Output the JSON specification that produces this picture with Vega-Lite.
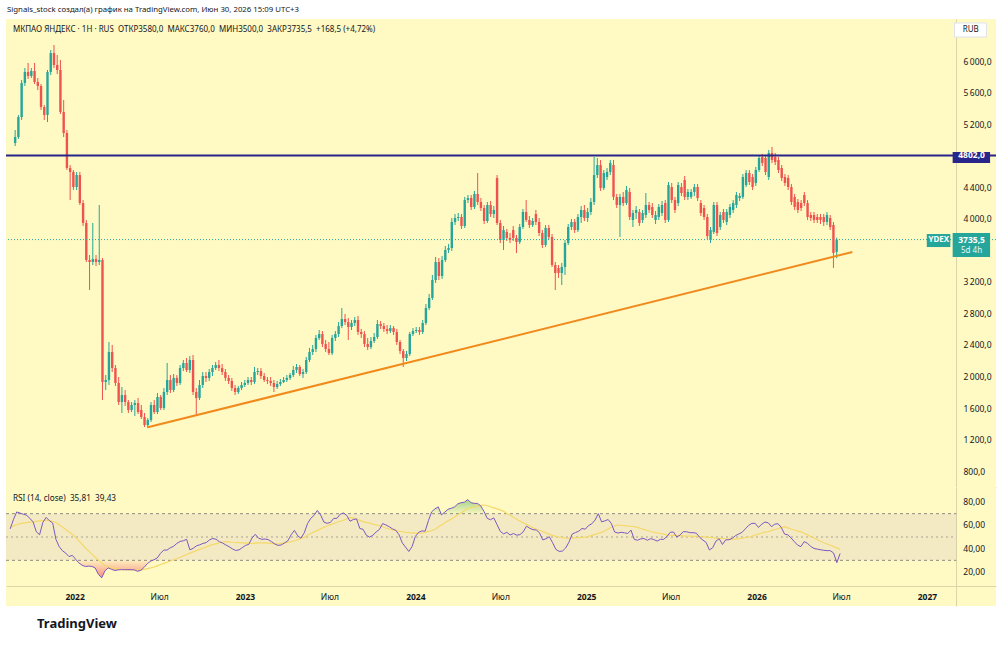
{
  "$schema": "https://vega.github.io/schema/vega-lite/v6.json",
  "background": "#ffffff",
  "padding": {"left": 5, "right": 5, "top": 6, "bottom": 0},
  "spacing": 0,
  "title": {"text": "TradingView", "orient": "bottom", "anchor": "start", "frame": "group", "offset": 12, "dx": 31, "fontSize": 13, "fontWeight": "bold", "color": "#131722"},
  "datasets": {
    "w": [
      {"d":"2021-08-16","o":4960,"h":5125,"l":4922,"c":5036,"r":57,"m":58},
      {"d":"2021-08-23","o":5036,"h":5315,"l":5011,"c":5290,"r":65,"m":59.5},
      {"d":"2021-08-30","o":5290,"h":5759,"l":5252,"c":5721,"r":71.5,"m":60.5},
      {"d":"2021-09-06","o":5721,"h":5911,"l":5683,"c":5861,"r":70.5,"m":61.4},
      {"d":"2021-09-13","o":5861,"h":5975,"l":5772,"c":5810,"r":69.5,"m":61.9},
      {"d":"2021-09-20","o":5810,"h":5911,"l":5784,"c":5873,"r":68.8,"m":62.3},
      {"d":"2021-09-27","o":5873,"h":5975,"l":5708,"c":5734,"r":66,"m":62.7},
      {"d":"2021-10-04","o":5734,"h":5784,"l":5632,"c":5683,"r":63,"m":63},
      {"d":"2021-10-11","o":5683,"h":5708,"l":5379,"c":5417,"r":54.4,"m":63.4},
      {"d":"2021-10-18","o":5417,"h":5442,"l":5252,"c":5315,"r":52,"m":63.8},
      {"d":"2021-10-25","o":5315,"h":5886,"l":5226,"c":5861,"r":62.5,"m":64.1},
      {"d":"2021-11-01","o":5861,"h":6139,"l":5822,"c":6101,"r":66.8,"m":64.4},
      {"d":"2021-11-08","o":6101,"h":6203,"l":5911,"c":5949,"r":64,"m":64.3},
      {"d":"2021-11-15","o":5949,"h":6076,"l":5835,"c":5886,"r":62,"m":63.3},
      {"d":"2021-11-22","o":5886,"h":6013,"l":5328,"c":5353,"r":48,"m":62.4},
      {"d":"2021-11-29","o":5353,"h":5505,"l":5036,"c":5087,"r":41.7,"m":60.5},
      {"d":"2021-12-06","o":5087,"h":5125,"l":4618,"c":4643,"r":38.2,"m":58.6},
      {"d":"2021-12-13","o":4643,"h":4681,"l":4237,"c":4593,"r":36.2,"m":56.5},
      {"d":"2021-12-20","o":4593,"h":4618,"l":4364,"c":4402,"r":33.2,"m":54.3},
      {"d":"2021-12-27","o":4402,"h":4593,"l":4364,"c":4554,"r":34.3,"m":52.3},
      {"d":"2022-01-03","o":4554,"h":4593,"l":4174,"c":4199,"r":31,"m":49.7},
      {"d":"2022-01-10","o":4199,"h":4237,"l":3908,"c":3946,"r":27.8,"m":46.7},
      {"d":"2022-01-17","o":3946,"h":3984,"l":3451,"c":3477,"r":25.8,"m":43.8},
      {"d":"2022-01-24","o":3477,"h":3540,"l":3096,"c":3451,"r":24.7,"m":40.8},
      {"d":"2022-01-31","o":3451,"h":3946,"l":3413,"c":3489,"r":25,"m":37.9},
      {"d":"2022-02-07","o":3489,"h":3540,"l":3400,"c":3451,"r":24.8,"m":35.3},
      {"d":"2022-02-14","o":3451,"h":4174,"l":3413,"c":3477,"r":23.5,"m":32.7},
      {"d":"2022-02-21","o":3477,"h":3502,"l":1701,"c":1930,"r":18,"m":30.1},
      {"d":"2022-02-28","o":1930,"h":2018,"l":1828,"c":1955,"r":15,"m":27.8},
      {"d":"2022-03-07","o":1955,"h":2437,"l":1892,"c":2310,"r":21,"m":25.6},
      {"d":"2022-03-14","o":2310,"h":2399,"l":2056,"c":2107,"r":23.5,"m":24.6},
      {"d":"2022-03-21","o":2107,"h":2145,"l":1879,"c":1917,"r":22.3,"m":23.8},
      {"d":"2022-03-28","o":1917,"h":1993,"l":1638,"c":1676,"r":21.3,"m":23.1},
      {"d":"2022-04-04","o":1676,"h":1866,"l":1537,"c":1765,"r":21.8,"m":22.7},
      {"d":"2022-04-11","o":1765,"h":1828,"l":1625,"c":1676,"r":22,"m":22.3},
      {"d":"2022-04-18","o":1676,"h":1701,"l":1537,"c":1575,"r":22,"m":22},
      {"d":"2022-04-25","o":1575,"h":1676,"l":1549,"c":1638,"r":22,"m":21.8},
      {"d":"2022-05-02","o":1638,"h":1701,"l":1498,"c":1663,"r":22,"m":21.7},
      {"d":"2022-05-09","o":1663,"h":1727,"l":1524,"c":1549,"r":21.8,"m":21.7},
      {"d":"2022-05-16","o":1575,"h":1638,"l":1460,"c":1486,"r":20.6,"m":21.7},
      {"d":"2022-05-23","o":1486,"h":1537,"l":1359,"c":1384,"r":21.5,"m":21.7},
      {"d":"2022-05-30","o":1384,"h":1473,"l":1346,"c":1448,"r":24,"m":22.2},
      {"d":"2022-06-06","o":1448,"h":1676,"l":1422,"c":1638,"r":27.2,"m":22.9},
      {"d":"2022-06-13","o":1638,"h":1701,"l":1524,"c":1549,"r":29.3,"m":23.5},
      {"d":"2022-06-20","o":1549,"h":1790,"l":1524,"c":1740,"r":30.5,"m":24.3},
      {"d":"2022-06-27","o":1740,"h":1765,"l":1575,"c":1600,"r":32,"m":25.3},
      {"d":"2022-07-04","o":1600,"h":1853,"l":1575,"c":1803,"r":36,"m":26.4},
      {"d":"2022-07-11","o":1803,"h":2171,"l":1765,"c":1955,"r":38.8,"m":27.4},
      {"d":"2022-07-18","o":1955,"h":2018,"l":1790,"c":1828,"r":38.8,"m":28.4},
      {"d":"2022-07-25","o":1828,"h":2031,"l":1803,"c":1981,"r":40.8,"m":29.4},
      {"d":"2022-08-01","o":1981,"h":2018,"l":1879,"c":1917,"r":42,"m":30.5},
      {"d":"2022-08-08","o":1917,"h":2145,"l":1892,"c":2107,"r":44.5,"m":31.6},
      {"d":"2022-08-15","o":2107,"h":2209,"l":2069,"c":2171,"r":46.2,"m":32.6},
      {"d":"2022-08-22","o":2171,"h":2234,"l":2056,"c":2082,"r":46.8,"m":33.8},
      {"d":"2022-08-29","o":2082,"h":2259,"l":2044,"c":2209,"r":48,"m":35},
      {"d":"2022-09-05","o":2209,"h":2272,"l":1765,"c":1803,"r":39,"m":36.2},
      {"d":"2022-09-12","o":1803,"h":1853,"l":1511,"c":1727,"r":40.3,"m":37.2},
      {"d":"2022-09-19","o":1727,"h":1955,"l":1701,"c":1892,"r":42.4,"m":38.3},
      {"d":"2022-09-26","o":1892,"h":2056,"l":1854,"c":2006,"r":43.3,"m":39.4},
      {"d":"2022-10-03","o":2006,"h":2056,"l":1930,"c":1981,"r":44.5,"m":40.5},
      {"d":"2022-10-10","o":1981,"h":2094,"l":1943,"c":2056,"r":45.2,"m":41.5},
      {"d":"2022-10-17","o":2056,"h":2145,"l":2006,"c":2107,"r":47.5,"m":42.6},
      {"d":"2022-10-24","o":2107,"h":2183,"l":2082,"c":2145,"r":48.7,"m":43.5},
      {"d":"2022-10-31","o":2145,"h":2209,"l":2069,"c":2107,"r":48.1,"m":44.3},
      {"d":"2022-11-07","o":2107,"h":2158,"l":2018,"c":2056,"r":46,"m":45.1},
      {"d":"2022-11-14","o":2056,"h":2094,"l":1943,"c":1981,"r":44.8,"m":45.7},
      {"d":"2022-11-21","o":1981,"h":2018,"l":1904,"c":1943,"r":43.2,"m":46},
      {"d":"2022-11-28","o":1943,"h":1981,"l":1816,"c":1854,"r":41.7,"m":45.8},
      {"d":"2022-12-05","o":1854,"h":1892,"l":1765,"c":1803,"r":39.8,"m":45.5},
      {"d":"2022-12-12","o":1803,"h":1879,"l":1778,"c":1854,"r":38.5,"m":45.3},
      {"d":"2022-12-19","o":1854,"h":1930,"l":1828,"c":1892,"r":38.9,"m":45.1},
      {"d":"2022-12-26","o":1892,"h":1955,"l":1866,"c":1917,"r":40.8,"m":45},
      {"d":"2023-01-02","o":1917,"h":1993,"l":1892,"c":1955,"r":42.8,"m":44.8},
      {"d":"2023-01-09","o":1955,"h":1993,"l":1892,"c":1930,"r":43.6,"m":44.7},
      {"d":"2023-01-16","o":1930,"h":2120,"l":1904,"c":2056,"r":49,"m":44.6},
      {"d":"2023-01-23","o":2056,"h":2107,"l":2018,"c":2069,"r":52.3,"m":44.8},
      {"d":"2023-01-30","o":2069,"h":2107,"l":1968,"c":2006,"r":49,"m":44.9},
      {"d":"2023-02-06","o":2006,"h":2044,"l":1930,"c":1955,"r":48,"m":45},
      {"d":"2023-02-13","o":1955,"h":1993,"l":1904,"c":1943,"r":48.3,"m":45},
      {"d":"2023-02-20","o":1943,"h":1993,"l":1879,"c":1917,"r":47.7,"m":44.8},
      {"d":"2023-02-27","o":1917,"h":1955,"l":1803,"c":1866,"r":46,"m":44.6},
      {"d":"2023-03-06","o":1866,"h":1943,"l":1841,"c":1904,"r":44,"m":44.3},
      {"d":"2023-03-13","o":1904,"h":1968,"l":1879,"c":1930,"r":42.8,"m":44},
      {"d":"2023-03-20","o":1930,"h":1993,"l":1917,"c":1955,"r":43.2,"m":44.5},
      {"d":"2023-03-27","o":1955,"h":2018,"l":1930,"c":1981,"r":45,"m":45},
      {"d":"2023-04-03","o":1981,"h":2044,"l":1955,"c":2018,"r":46.8,"m":45.5},
      {"d":"2023-04-10","o":2018,"h":2133,"l":1993,"c":2082,"r":52,"m":46},
      {"d":"2023-04-17","o":2082,"h":2158,"l":2044,"c":2120,"r":55.7,"m":46.8},
      {"d":"2023-04-24","o":2120,"h":2145,"l":2006,"c":2031,"r":51,"m":47.8},
      {"d":"2023-05-01","o":2031,"h":2094,"l":1981,"c":2056,"r":49,"m":48.8},
      {"d":"2023-05-08","o":2056,"h":2247,"l":2031,"c":2209,"r":53.6,"m":49.7},
      {"d":"2023-05-15","o":2209,"h":2361,"l":2183,"c":2310,"r":61.5,"m":51.5},
      {"d":"2023-05-22","o":2310,"h":2399,"l":2272,"c":2348,"r":66,"m":53},
      {"d":"2023-05-29","o":2348,"h":2526,"l":2310,"c":2488,"r":68.5,"m":54.4},
      {"d":"2023-06-05","o":2488,"h":2589,"l":2462,"c":2538,"r":72.8,"m":55.7},
      {"d":"2023-06-12","o":2538,"h":2576,"l":2373,"c":2411,"r":69,"m":57},
      {"d":"2023-06-19","o":2411,"h":2462,"l":2310,"c":2348,"r":62.8,"m":58.3},
      {"d":"2023-06-26","o":2348,"h":2437,"l":2272,"c":2297,"r":61.7,"m":59.4},
      {"d":"2023-07-03","o":2297,"h":2526,"l":2272,"c":2488,"r":62.5,"m":60.6},
      {"d":"2023-07-10","o":2488,"h":2576,"l":2450,"c":2538,"r":65.9,"m":61.6},
      {"d":"2023-07-17","o":2538,"h":2691,"l":2500,"c":2640,"r":66,"m":62.6},
      {"d":"2023-07-24","o":2640,"h":2868,"l":2614,"c":2728,"r":69.5,"m":63.5},
      {"d":"2023-07-31","o":2728,"h":2792,"l":2652,"c":2690,"r":70.6,"m":64.4},
      {"d":"2023-08-07","o":2690,"h":2741,"l":2462,"c":2627,"r":68.5,"m":65.5},
      {"d":"2023-08-14","o":2627,"h":2716,"l":2589,"c":2678,"r":63.5,"m":66.6},
      {"d":"2023-08-21","o":2678,"h":2754,"l":2640,"c":2716,"r":65,"m":66.4},
      {"d":"2023-08-28","o":2716,"h":2767,"l":2526,"c":2564,"r":65.5,"m":65.4},
      {"d":"2023-09-04","o":2564,"h":2602,"l":2488,"c":2538,"r":57.3,"m":64.3},
      {"d":"2023-09-11","o":2538,"h":2576,"l":2373,"c":2411,"r":56.6,"m":63.2},
      {"d":"2023-09-18","o":2411,"h":2488,"l":2335,"c":2373,"r":51.5,"m":62.6},
      {"d":"2023-09-25","o":2373,"h":2500,"l":2348,"c":2450,"r":49.9,"m":61.9},
      {"d":"2023-10-02","o":2450,"h":2551,"l":2424,"c":2500,"r":51.5,"m":61},
      {"d":"2023-10-09","o":2500,"h":2716,"l":2475,"c":2665,"r":54.3,"m":60.3},
      {"d":"2023-10-16","o":2665,"h":2703,"l":2602,"c":2640,"r":56.5,"m":59.5},
      {"d":"2023-10-23","o":2640,"h":2678,"l":2564,"c":2602,"r":61.5,"m":58.6},
      {"d":"2023-10-30","o":2602,"h":2652,"l":2538,"c":2576,"r":60.3,"m":57.7},
      {"d":"2023-11-06","o":2576,"h":2652,"l":2551,"c":2614,"r":58.8,"m":56.9},
      {"d":"2023-11-13","o":2614,"h":2640,"l":2526,"c":2564,"r":57,"m":56.1},
      {"d":"2023-11-20","o":2564,"h":2602,"l":2399,"c":2437,"r":55.8,"m":55.6},
      {"d":"2023-11-27","o":2437,"h":2462,"l":2285,"c":2323,"r":52,"m":55},
      {"d":"2023-12-04","o":2323,"h":2348,"l":2120,"c":2234,"r":45,"m":54.5},
      {"d":"2023-12-11","o":2234,"h":2323,"l":2196,"c":2285,"r":41.3,"m":54},
      {"d":"2023-12-18","o":2285,"h":2564,"l":2259,"c":2538,"r":37.6,"m":53.7},
      {"d":"2023-12-25","o":2538,"h":2614,"l":2513,"c":2576,"r":41.8,"m":53.6},
      {"d":"2024-01-01","o":2576,"h":2627,"l":2551,"c":2589,"r":50.5,"m":53.4},
      {"d":"2024-01-08","o":2589,"h":2627,"l":2526,"c":2564,"r":54,"m":53.3},
      {"d":"2024-01-15","o":2564,"h":2716,"l":2538,"c":2678,"r":55.2,"m":53.2},
      {"d":"2024-01-22","o":2678,"h":2919,"l":2652,"c":2868,"r":55,"m":54},
      {"d":"2024-01-29","o":2868,"h":3046,"l":2843,"c":2995,"r":64,"m":54.8},
      {"d":"2024-02-05","o":2995,"h":3286,"l":2970,"c":3223,"r":71.6,"m":55.5},
      {"d":"2024-02-12","o":3223,"h":3515,"l":3185,"c":3451,"r":74.1,"m":56.4},
      {"d":"2024-02-19","o":3451,"h":3502,"l":3223,"c":3274,"r":75.8,"m":58.5},
      {"d":"2024-02-26","o":3274,"h":3527,"l":3236,"c":3477,"r":69,"m":60.3},
      {"d":"2024-03-04","o":3477,"h":3654,"l":3451,"c":3604,"r":71.3,"m":62.2},
      {"d":"2024-03-11","o":3604,"h":3680,"l":3565,"c":3629,"r":73.8,"m":63.9},
      {"d":"2024-03-18","o":3629,"h":4009,"l":3591,"c":3959,"r":74.6,"m":65.3},
      {"d":"2024-03-25","o":3959,"h":4060,"l":3920,"c":4009,"r":75.8,"m":67.2},
      {"d":"2024-04-01","o":4009,"h":4073,"l":3971,"c":4022,"r":78.4,"m":69.1},
      {"d":"2024-04-08","o":4022,"h":4060,"l":3870,"c":3908,"r":79.4,"m":70.8},
      {"d":"2024-04-15","o":3908,"h":4276,"l":3883,"c":4237,"r":79.8,"m":72.6},
      {"d":"2024-04-22","o":4237,"h":4301,"l":4199,"c":4263,"r":82,"m":74.4},
      {"d":"2024-04-29","o":4263,"h":4301,"l":4111,"c":4149,"r":79.5,"m":75.3},
      {"d":"2024-05-06","o":4149,"h":4352,"l":4123,"c":4314,"r":78.8,"m":75.9},
      {"d":"2024-05-13","o":4314,"h":4580,"l":4174,"c":4212,"r":78.8,"m":76.5},
      {"d":"2024-05-20","o":4212,"h":4263,"l":4098,"c":4136,"r":76.7,"m":77.1},
      {"d":"2024-05-27","o":4136,"h":4174,"l":3933,"c":3971,"r":72,"m":77.4},
      {"d":"2024-06-03","o":3971,"h":4212,"l":3946,"c":4174,"r":66,"m":76.8},
      {"d":"2024-06-10","o":4174,"h":4225,"l":4022,"c":4060,"r":64.8,"m":75.9},
      {"d":"2024-06-17","o":4060,"h":4161,"l":4009,"c":4111,"r":66.4,"m":75},
      {"d":"2024-06-24","o":4517,"h":4554,"l":3920,"c":3946,"r":60.6,"m":74.1},
      {"d":"2024-07-01","o":3946,"h":3984,"l":3692,"c":3730,"r":54.8,"m":73.3},
      {"d":"2024-07-08","o":3730,"h":3908,"l":3604,"c":3857,"r":52.7,"m":72},
      {"d":"2024-07-15","o":3832,"h":3870,"l":3718,"c":3756,"r":54,"m":70.2},
      {"d":"2024-07-22","o":3756,"h":3819,"l":3692,"c":3730,"r":51.7,"m":68.6},
      {"d":"2024-07-29","o":3857,"h":3908,"l":3718,"c":3756,"r":53,"m":67},
      {"d":"2024-08-05","o":3756,"h":3794,"l":3565,"c":3705,"r":51.6,"m":65.3},
      {"d":"2024-08-12","o":3705,"h":3933,"l":3680,"c":3895,"r":52,"m":63.7},
      {"d":"2024-08-19","o":3895,"h":4123,"l":3870,"c":4085,"r":54.4,"m":62.2},
      {"d":"2024-08-26","o":4085,"h":4237,"l":3959,"c":3984,"r":59.3,"m":60.8},
      {"d":"2024-09-02","o":3984,"h":4034,"l":3883,"c":3920,"r":57.5,"m":59.4},
      {"d":"2024-09-09","o":3920,"h":4009,"l":3895,"c":3971,"r":56.3,"m":57.9},
      {"d":"2024-09-16","o":4060,"h":4111,"l":3920,"c":3959,"r":56,"m":56.9},
      {"d":"2024-09-23","o":3959,"h":4009,"l":3781,"c":3819,"r":53.6,"m":55.8},
      {"d":"2024-09-30","o":3819,"h":3857,"l":3629,"c":3667,"r":47.5,"m":54.6},
      {"d":"2024-10-07","o":3667,"h":3920,"l":3642,"c":3883,"r":48.5,"m":53.5},
      {"d":"2024-10-14","o":3883,"h":3920,"l":3730,"c":3768,"r":50.2,"m":52.3},
      {"d":"2024-10-21","o":3768,"h":3806,"l":3388,"c":3413,"r":45.2,"m":51.4},
      {"d":"2024-10-28","o":3413,"h":3451,"l":3096,"c":3312,"r":39.4,"m":50.6},
      {"d":"2024-11-04","o":3375,"h":3413,"l":3249,"c":3312,"r":37.7,"m":50},
      {"d":"2024-11-11","o":3312,"h":3439,"l":3160,"c":3388,"r":37.9,"m":49.4},
      {"d":"2024-11-18","o":3388,"h":3730,"l":3287,"c":3692,"r":40.6,"m":49},
      {"d":"2024-11-25","o":3692,"h":3933,"l":3667,"c":3895,"r":45.5,"m":48.9},
      {"d":"2024-12-02","o":3895,"h":3997,"l":3857,"c":3959,"r":52.5,"m":49.1},
      {"d":"2024-12-09","o":3959,"h":3997,"l":3819,"c":3857,"r":53.8,"m":49.3},
      {"d":"2024-12-16","o":3857,"h":4060,"l":3832,"c":4022,"r":55,"m":49.5},
      {"d":"2024-12-23","o":4022,"h":4161,"l":3946,"c":4111,"r":57.3,"m":49.6},
      {"d":"2024-12-30","o":4111,"h":4174,"l":3971,"c":4009,"r":56.7,"m":49.8},
      {"d":"2025-01-06","o":4009,"h":4136,"l":3959,"c":4085,"r":59.8,"m":50.6},
      {"d":"2025-01-13","o":4085,"h":4263,"l":4047,"c":4212,"r":61.3,"m":51.4},
      {"d":"2025-01-20","o":4212,"h":4783,"l":4174,"c":4554,"r":64.5,"m":52.2},
      {"d":"2025-01-27","o":4554,"h":4770,"l":4516,"c":4681,"r":70,"m":53.1},
      {"d":"2025-02-03","o":4681,"h":4745,"l":4352,"c":4390,"r":63,"m":54},
      {"d":"2025-02-10","o":4390,"h":4618,"l":4364,"c":4580,"r":63.8,"m":55.4},
      {"d":"2025-02-17","o":4529,"h":4643,"l":4491,"c":4593,"r":65,"m":56.9},
      {"d":"2025-02-24","o":4593,"h":4745,"l":4554,"c":4707,"r":61.5,"m":58.3},
      {"d":"2025-03-03","o":4681,"h":4745,"l":4237,"c":4276,"r":54.3,"m":59.6},
      {"d":"2025-03-10","o":4276,"h":4314,"l":4136,"c":4174,"r":53.4,"m":60.3},
      {"d":"2025-03-17","o":4174,"h":4314,"l":3769,"c":4276,"r":54,"m":60},
      {"d":"2025-03-24","o":4276,"h":4339,"l":4161,"c":4199,"r":53.6,"m":59.7},
      {"d":"2025-03-31","o":4199,"h":4415,"l":4174,"c":4364,"r":53,"m":59.4},
      {"d":"2025-04-07","o":4339,"h":4390,"l":3984,"c":4022,"r":55.9,"m":59.2},
      {"d":"2025-04-14","o":3984,"h":4111,"l":3895,"c":4073,"r":48,"m":58.9},
      {"d":"2025-04-21","o":4073,"h":4161,"l":3997,"c":4111,"r":47.2,"m":58.2},
      {"d":"2025-04-28","o":4085,"h":4123,"l":3908,"c":3946,"r":48.4,"m":57.3},
      {"d":"2025-05-05","o":3984,"h":4111,"l":3946,"c":4073,"r":48.7,"m":56.5},
      {"d":"2025-05-12","o":4047,"h":4326,"l":4009,"c":4174,"r":47.2,"m":55.6},
      {"d":"2025-05-19","o":4174,"h":4212,"l":4073,"c":4111,"r":48.6,"m":54.7},
      {"d":"2025-05-26","o":4149,"h":4199,"l":4009,"c":4047,"r":47.8,"m":54.1},
      {"d":"2025-06-02","o":3984,"h":4098,"l":3933,"c":4047,"r":46.5,"m":53.5},
      {"d":"2025-06-09","o":4022,"h":4187,"l":3984,"c":4149,"r":48,"m":53},
      {"d":"2025-06-16","o":4073,"h":4225,"l":4034,"c":4174,"r":48,"m":52.4},
      {"d":"2025-06-23","o":4199,"h":4237,"l":3946,"c":3984,"r":50.4,"m":51.9},
      {"d":"2025-06-30","o":3984,"h":4466,"l":3959,"c":4428,"r":54,"m":51.6},
      {"d":"2025-07-07","o":4402,"h":4453,"l":4199,"c":4237,"r":54.3,"m":51.4},
      {"d":"2025-07-14","o":4237,"h":4276,"l":4073,"c":4111,"r":50,"m":51.2},
      {"d":"2025-07-21","o":4199,"h":4466,"l":4161,"c":4428,"r":51.6,"m":51.1},
      {"d":"2025-07-28","o":4402,"h":4453,"l":4288,"c":4326,"r":54.6,"m":50.9},
      {"d":"2025-08-04","o":4491,"h":4542,"l":4237,"c":4276,"r":54.5,"m":50.8},
      {"d":"2025-08-11","o":4276,"h":4377,"l":4237,"c":4339,"r":53.7,"m":50.7},
      {"d":"2025-08-18","o":4276,"h":4377,"l":4250,"c":4339,"r":53.7,"m":50.6},
      {"d":"2025-08-25","o":4339,"h":4440,"l":4288,"c":4402,"r":53.3,"m":50.5},
      {"d":"2025-09-01","o":4402,"h":4440,"l":4225,"c":4263,"r":49.7,"m":50.4},
      {"d":"2025-09-08","o":4199,"h":4237,"l":4034,"c":4073,"r":47.4,"m":50.2},
      {"d":"2025-09-15","o":4136,"h":4174,"l":3984,"c":4022,"r":45.3,"m":49.9},
      {"d":"2025-09-22","o":4022,"h":4060,"l":3743,"c":3781,"r":38.9,"m":49.6},
      {"d":"2025-09-29","o":3730,"h":3895,"l":3692,"c":3857,"r":40.8,"m":49.4},
      {"d":"2025-10-06","o":3832,"h":4212,"l":3806,"c":4174,"r":46.5,"m":49.1},
      {"d":"2025-10-13","o":4174,"h":4212,"l":3781,"c":3819,"r":48.5,"m":48.9},
      {"d":"2025-10-20","o":3895,"h":4085,"l":3857,"c":4047,"r":43.6,"m":48.7},
      {"d":"2025-10-27","o":4085,"h":4123,"l":3946,"c":3984,"r":47.6,"m":48.5},
      {"d":"2025-11-03","o":3959,"h":4123,"l":3920,"c":4085,"r":47.6,"m":48.3},
      {"d":"2025-11-10","o":4047,"h":4187,"l":4009,"c":4149,"r":48.9,"m":48.1},
      {"d":"2025-11-17","o":4111,"h":4237,"l":4073,"c":4199,"r":51.2,"m":48.2},
      {"d":"2025-11-24","o":4174,"h":4339,"l":4136,"c":4301,"r":52.6,"m":48.6},
      {"d":"2025-12-01","o":4263,"h":4326,"l":4225,"c":4288,"r":54,"m":49.1},
      {"d":"2025-12-08","o":4276,"h":4567,"l":4250,"c":4529,"r":57,"m":49.6},
      {"d":"2025-12-15","o":4428,"h":4618,"l":4402,"c":4580,"r":59.9,"m":50},
      {"d":"2025-12-22","o":4580,"h":4618,"l":4428,"c":4466,"r":61.7,"m":50.6},
      {"d":"2025-12-29","o":4529,"h":4567,"l":4364,"c":4402,"r":61.7,"m":51.6},
      {"d":"2026-01-05","o":4453,"h":4656,"l":4415,"c":4618,"r":58.2,"m":52.5},
      {"d":"2026-01-12","o":4618,"h":4808,"l":4593,"c":4770,"r":60.9,"m":53.4},
      {"d":"2026-01-19","o":4783,"h":4821,"l":4669,"c":4707,"r":62.8,"m":54.2},
      {"d":"2026-01-26","o":4770,"h":4808,"l":4554,"c":4593,"r":62.2,"m":54.5},
      {"d":"2026-02-02","o":4529,"h":4872,"l":4491,"c":4834,"r":58.9,"m":55.5},
      {"d":"2026-02-09","o":4834,"h":4910,"l":4707,"c":4745,"r":61,"m":56.4},
      {"d":"2026-02-16","o":4783,"h":4834,"l":4681,"c":4719,"r":61.4,"m":57.3},
      {"d":"2026-02-23","o":4745,"h":4783,"l":4580,"c":4618,"r":58.2,"m":58.2},
      {"d":"2026-03-02","o":4643,"h":4681,"l":4478,"c":4517,"r":52.5,"m":58.8},
      {"d":"2026-03-09","o":4529,"h":4567,"l":4415,"c":4453,"r":51.9,"m":57.8},
      {"d":"2026-03-16","o":4517,"h":4554,"l":4364,"c":4402,"r":49.2,"m":56.9},
      {"d":"2026-03-23","o":4402,"h":4440,"l":4174,"c":4212,"r":46,"m":56},
      {"d":"2026-03-30","o":4276,"h":4314,"l":4111,"c":4149,"r":43,"m":55.1},
      {"d":"2026-04-06","o":4212,"h":4250,"l":4073,"c":4111,"r":41.8,"m":54.6},
      {"d":"2026-04-13","o":4199,"h":4237,"l":4098,"c":4136,"r":46,"m":53.2},
      {"d":"2026-04-20","o":4301,"h":4339,"l":4161,"c":4199,"r":44.6,"m":51.8},
      {"d":"2026-04-27","o":4199,"h":4237,"l":3984,"c":4022,"r":42,"m":50.4},
      {"d":"2026-05-04","o":4047,"h":4085,"l":3971,"c":4009,"r":40.2,"m":49.2},
      {"d":"2026-05-11","o":4047,"h":4085,"l":3946,"c":3984,"r":39.6,"m":47.8},
      {"d":"2026-05-18","o":4022,"h":4060,"l":3946,"c":3984,"r":39.1,"m":46.3},
      {"d":"2026-05-25","o":4022,"h":4060,"l":3933,"c":3984,"r":38.6,"m":45.1},
      {"d":"2026-06-01","o":4022,"h":4060,"l":3908,"c":3959,"r":38.3,"m":44},
      {"d":"2026-06-08","o":3959,"h":4085,"l":3920,"c":4047,"r":38.3,"m":42.9},
      {"d":"2026-06-15","o":4009,"h":4047,"l":3857,"c":3895,"r":36.3,"m":41.8},
      {"d":"2026-06-22","o":3920,"h":3959,"l":3375,"c":3567,"r":28,"m":40.7},
      {"d":"2026-06-29","o":3580,"h":3760,"l":3500,"c":3735.5,"r":35.81,"m":39.43}
    ],
    "trend": [
      {"d":"2022-05-30","p":1355},
      {"d":"2026-08-02","p":3578}
    ]
  },
  "vconcat": [
    {
      "title": {"text": "Signals_stock создал(а) график на TradingView.com, Июн 30, 2026 15:09 UTC+3", "anchor": "start", "frame": "group", "offset": 5, "dx": 1, "fontSize": 7.8, "fontWeight": "normal", "color": "#131722"},
      "spacing": 0,
      "vconcat": [
        {
          "width": 990,
          "height": 468,
          "title": {"text": "МКПАО ЯНДЕКС · 1Н · RUS\u00a0 ОТКР3580,0\u00a0 МАКС3760,0\u00a0 МИН3500,0\u00a0 ЗАКР3735,5\u00a0 +168,5 (+4,72%)", "anchor": "start", "frame": "group", "offset": -15, "dx": 7, "fontSize": 8, "fontWeight": "normal", "color": "#131722"},
          "data": {"name": "w"},
          "layer": [
            {
              "mark": {"type": "rule", "strokeWidth": 1},
              "encoding": {
                "x": {"field": "d", "type": "temporal", "scale": {"type": "utc", "domain": [{"year": 2021, "month": 8, "date": 7, "utc": true}, {"year": 2027, "month": 5, "date": 29, "utc": true}]}, "axis": {"title": null, "labels": false, "ticks": false, "grid": false, "domainColor": "#DCD5A8"}},
                "y": {"field": "l", "type": "quantitative", "scale": {"domain": [598.3, 6532.6], "nice": false, "zero": false}, "axis": {"orient": "right", "offset": -40, "title": null, "values": [800, 1200, 1600, 2000, 2400, 2800, 3200, 4000, 4400, 5200, 5600, 6000], "format": ",.1f", "labelPadding": 7, "labelOverlap": false, "ticks": false, "grid": false, "domainColor": "#DCD5A8"}},
                "y2": {"field": "h"},
                "color": {"condition": {"test": "datum.c >= datum.o", "value": "#26a69a"}, "value": "#ef5350"}
              }
            },
            {
              "mark": {"type": "bar", "width": 2.4},
              "encoding": {
                "x": {"field": "d", "type": "temporal"},
                "y": {"field": "o", "type": "quantitative"},
                "y2": {"field": "c"},
                "color": {"condition": {"test": "datum.c >= datum.o", "value": "#26a69a"}, "value": "#ef5350"}
              }
            },
            {
              "data": {"values": [{"p": 3735.5}]},
              "mark": {"type": "rule", "color": "#26a69a", "strokeWidth": 1, "strokeDash": [1, 2]},
              "encoding": {"y": {"field": "p", "type": "quantitative"}}
            },
            {
              "data": {"values": [{"p": 4802}]},
              "mark": {"type": "rule", "color": "#27258a", "strokeWidth": 2},
              "encoding": {"y": {"field": "p", "type": "quantitative"}}
            },
            {
              "data": {"name": "trend"},
              "mark": {"type": "line", "color": "#f08a1c", "strokeWidth": 2},
              "encoding": {
                "x": {"field": "d", "type": "temporal"},
                "y": {"field": "p", "type": "quantitative"}
              }
            },
            {
              "data": {"values": [{}]},
              "mark": {"type": "rect", "color": "#27258a"},
              "encoding": {
                "x": {"datum": {"year": 2027, "month": 3, "date": 7, "utc": true}, "type": "temporal"},
                "x2": {"datum": {"year": 2027, "month": 5, "date": 27, "utc": true}},
                "y": {"datum": 4846},
                "y2": {"datum": 4707}
              }
            },
            {
              "data": {"values": [{"p": 4802}]},
              "mark": {"type": "text", "color": "#ffffff", "fontSize": 8.5, "fontWeight": "bold", "baseline": "middle"},
              "encoding": {
                "x": {"datum": {"year": 2027, "month": 4, "date": 17, "utc": true}, "type": "temporal"},
                "y": {"field": "p", "type": "quantitative"},
                "text": {"field": "p", "type": "quantitative", "format": ".1f"}
              }
            },
            {
              "data": {"values": [{}]},
              "mark": {"type": "rect", "color": "#26a69a"},
              "encoding": {
                "x": {"datum": {"year": 2027, "month": 3, "date": 7, "utc": true}, "type": "temporal"},
                "x2": {"datum": {"year": 2027, "month": 5, "date": 27, "utc": true}},
                "y": {"datum": 3819},
                "y2": {"datum": 3515}
              }
            },
            {
              "data": {"values": [{}]},
              "mark": {"type": "rect", "color": "#26a69a"},
              "encoding": {
                "x": {"datum": {"year": 2027, "month": 1, "date": 10, "utc": true}, "type": "temporal"},
                "x2": {"datum": {"year": 2027, "month": 3, "date": 2, "utc": true}},
                "y": {"datum": 3806},
                "y2": {"datum": 3641}
              }
            },
            {
              "data": {"values": [{"p": 3735.5}]},
              "mark": {"type": "text", "color": "#ffffff", "fontSize": 8.5, "fontWeight": "bold", "baseline": "middle"},
              "encoding": {
                "x": {"datum": {"year": 2027, "month": 4, "date": 17, "utc": true}, "type": "temporal"},
                "y": {"field": "p", "type": "quantitative"},
                "text": {"field": "p", "type": "quantitative", "format": ".1f"}
              }
            },
            {
              "data": {"values": [{"t": "5d 4h"}]},
              "mark": {"type": "text", "color": "#e8f6f4", "fontSize": 8, "baseline": "middle"},
              "encoding": {
                "x": {"datum": {"year": 2027, "month": 4, "date": 17, "utc": true}, "type": "temporal"},
                "y": {"datum": 3591},
                "text": {"field": "t"}
              }
            },
            {
              "data": {"values": [{"t": "YDEX", "p": 3735.5}]},
              "mark": {"type": "text", "color": "#ffffff", "fontSize": 8, "fontWeight": "bold", "baseline": "middle"},
              "encoding": {
                "x": {"datum": {"year": 2027, "month": 2, "date": 5, "utc": true}, "type": "temporal"},
                "y": {"field": "p", "type": "quantitative"},
                "text": {"field": "t"}
              }
            },
            {
              "data": {"values": [{}]},
              "mark": {"type": "rect", "fill": "#ffffff", "stroke": "#e0e3eb", "strokeWidth": 1},
              "encoding": {
                "x": {"datum": {"year": 2027, "month": 3, "date": 11, "utc": true}, "type": "temporal"},
                "x2": {"datum": {"year": 2027, "month": 5, "date": 19, "utc": true}},
                "y": {"datum": 6482},
                "y2": {"datum": 6304}
              }
            },
            {
              "data": {"values": [{"t": "RUB"}]},
              "mark": {"type": "text", "color": "#131722", "fontSize": 8, "baseline": "middle"},
              "encoding": {
                "x": {"datum": {"year": 2027, "month": 4, "date": 15, "utc": true}, "type": "temporal"},
                "y": {"datum": 6393},
                "text": {"field": "t"}
              }
            }
          ]
        },
        {
          "width": 990,
          "height": 119,
          "title": {"text": "RSI (14, close)\u00a0 35,81\u00a0 39,43", "anchor": "start", "frame": "group", "offset": -16, "dx": 7, "fontSize": 8.2, "fontWeight": "normal", "color": "#131722"},
          "data": {"name": "w"},
          "layer": [
            {
              "mark": {"type": "line", "color": "#7e57c2", "strokeWidth": 1, "opacity": 0},
              "encoding": {
                "x": {"field": "d", "type": "temporal", "scale": {"type": "utc", "domain": [{"year": 2021, "month": 8, "date": 7, "utc": true}, {"year": 2027, "month": 5, "date": 29, "utc": true}]}, "axis": {"orient": "bottom", "offset": -20, "title": null, "values": [{"year": 2022, "month": 1, "date": 1, "utc": true}, {"year": 2022, "month": 7, "date": 1, "utc": true}, {"year": 2023, "month": 1, "date": 1, "utc": true}, {"year": 2023, "month": 7, "date": 1, "utc": true}, {"year": 2024, "month": 1, "date": 1, "utc": true}, {"year": 2024, "month": 7, "date": 1, "utc": true}, {"year": 2025, "month": 1, "date": 1, "utc": true}, {"year": 2025, "month": 7, "date": 1, "utc": true}, {"year": 2026, "month": 1, "date": 1, "utc": true}, {"year": 2026, "month": 7, "date": 1, "utc": true}, {"year": 2027, "month": 1, "date": 1, "utc": true}], "labelExpr": "utcmonth(datum.value) == 0 ? utcFormat(datum.value, '%Y') : 'Июл'", "labelFontWeight": {"condition": {"test": "utcmonth(datum.value) == 0", "value": "bold"}, "value": "normal"}, "ticks": false, "labelPadding": 6, "labelFlush": false, "labelOverlap": false, "grid": false, "domainColor": "#DCD5A8"}},
                "y": {"field": "r", "type": "quantitative", "scale": {"domain": [-9.14, 92.86], "nice": false, "zero": false}, "axis": {"orient": "right", "offset": -40, "title": null, "labels": false, "ticks": false, "grid": false, "domainColor": "#DCD5A8"}}
              }
            },
            {
              "data": {"values": [{}]},
              "mark": {"type": "rect", "color": "#7e57c2", "opacity": 0.09},
              "encoding": {
                "x": {"datum": {"year": 2021, "month": 8, "date": 7, "utc": true}, "type": "temporal"},
                "x2": {"datum": {"year": 2027, "month": 3, "date": 5, "utc": true}},
                "y": {"datum": 70, "type": "quantitative"},
                "y2": {"datum": 30}
              }
            },
            {
              "data": {"values": [{"v": 70}, {"v": 30}]},
              "mark": {"type": "rule", "color": "#8f8d80", "strokeWidth": 1, "strokeDash": [3, 3]},
              "encoding": {
                "x": {"datum": {"year": 2021, "month": 8, "date": 7, "utc": true}, "type": "temporal"},
                "x2": {"datum": {"year": 2027, "month": 3, "date": 5, "utc": true}},
                "y": {"field": "v", "type": "quantitative"}
              }
            },
            {
              "data": {"values": [{"v": 50}]},
              "mark": {"type": "rule", "color": "#a5a396", "strokeWidth": 1, "strokeDash": [2, 3]},
              "encoding": {
                "x": {"datum": {"year": 2021, "month": 8, "date": 7, "utc": true}, "type": "temporal"},
                "x2": {"datum": {"year": 2027, "month": 3, "date": 5, "utc": true}},
                "y": {"field": "v", "type": "quantitative"}
              }
            },
            {
              "data": {"values": [{"v": 20}, {"v": 40}, {"v": 60}, {"v": 80}]},
              "mark": {"type": "text", "align": "left", "baseline": "middle", "fontSize": 8.5, "font": "Noto Sans", "color": "#131722"},
              "encoding": {
                "x": {"datum": {"year": 2027, "month": 3, "date": 20, "utc": true}, "type": "temporal"},
                "y": {"field": "v", "type": "quantitative"},
                "text": {"field": "v", "type": "quantitative", "format": ".2f"}
              }
            },
            {
              "transform": [{"calculate": "min(datum.r, 30)", "as": "lo"}],
              "mark": {"type": "area", "fill": {"gradient": "linear", "x1": 0, "y1": 0, "x2": 0, "y2": 1, "stops": [{"offset": 0, "color": "rgba(242,54,69,0.05)"}, {"offset": 1, "color": "rgba(242,54,69,0.55)"}]}},
              "encoding": {
                "x": {"field": "d", "type": "temporal"},
                "y": {"field": "lo", "type": "quantitative"},
                "y2": {"datum": 30}
              }
            },
            {
              "transform": [{"calculate": "max(datum.r, 70)", "as": "hi"}],
              "mark": {"type": "area", "fill": {"gradient": "linear", "x1": 0, "y1": 0, "x2": 0, "y2": 1, "stops": [{"offset": 0, "color": "rgba(76,175,80,0.5)"}, {"offset": 1, "color": "rgba(76,175,80,0.05)"}]}},
              "encoding": {
                "x": {"field": "d", "type": "temporal"},
                "y": {"field": "hi", "type": "quantitative"},
                "y2": {"datum": 70}
              }
            },
            {
              "mark": {"type": "line", "color": "#f5d86a", "strokeWidth": 1.2},
              "encoding": {
                "x": {"field": "d", "type": "temporal"},
                "y": {"field": "m", "type": "quantitative"}
              }
            },
            {
              "mark": {"type": "line", "color": "#7e57c2", "strokeWidth": 1},
              "encoding": {
                "x": {"field": "d", "type": "temporal"},
                "y": {"field": "r", "type": "quantitative"}
              }
            }
          ]
        }
      ]
    }
  ],
  "config": {
    "view": {"fill": "#FFF9C4", "stroke": null},
    "font": "Noto Sans",
    "locale": {"number": {"decimal": ",", "thousands": "\u2009", "grouping": [3], "currency": ["", ""]}},
    "axis": {"labelFont": "Noto Sans", "labelFontSize": 8.5, "labelColor": "#131722", "grid": false, "labelOverlap": false},
    "title": {"font": "Noto Sans"}
  }
}
